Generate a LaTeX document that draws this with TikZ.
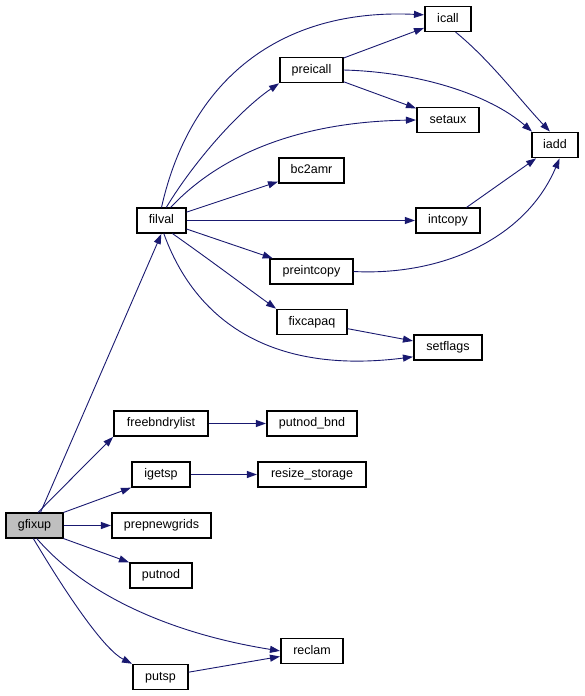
\documentclass[tikz,border=0pt]{standalone}
\usepackage{fontspec}
\setmainfont{Liberation Sans}
\usetikzlibrary{arrows.meta}
\definecolor{edgecol}{HTML}{191970}
\definecolor{rootfill}{HTML}{BFBFBF}
\tikzset{
  fn/.style={draw=black, line width=1.1pt, fill=white, inner sep=0pt, minimum height=25pt, font=\fontsize{12.5}{14}\selectfont, text height=9pt, text depth=2.5pt},
  root/.style={fn, fill=rootfill},
  call/.style={draw=edgecol, line width=0.9pt, -{Triangle[length=10pt,width=7pt]}, shorten >=0.5pt}
}
\begin{document}
\begin{tikzpicture}[x=1pt,y=-1pt]
\useasboundingbox (0,0) rectangle (584,696);
% nodes
\node[root, minimum width=57pt] (gfixup) at (34.5,525.5) {gfixup};
\node[fn, minimum width=49pt] (filval) at (161.5,220.5) {filval};
\node[fn, minimum width=46pt] (icall) at (448,19) {icall};
\node[fn, minimum width=63pt] (preicall) at (311.5,70) {preicall};
\node[fn, minimum width=62pt] (setaux) at (448,120) {setaux};
\node[fn, minimum width=46pt] (iadd) at (555,145) {iadd};
\node[fn, minimum width=65pt] (bc2amr) at (311.5,170.5) {bc2amr};
\node[fn, minimum width=64pt] (intcopy) at (448,220.5) {intcopy};
\node[fn, minimum width=83pt] (preintcopy) at (311.5,271.5) {preintcopy};
\node[fn, minimum width=70pt] (fixcapaq) at (312,322) {fixcapaq};
\node[fn, minimum width=68pt] (setflags) at (448,347.5) {setflags};
\node[fn, minimum width=94pt] (freebndrylist) at (161,423.5) {freebndrylist};
\node[fn, minimum width=90pt] (putnodbnd) at (312,423.5) {putnod\_bnd};
\node[fn, minimum width=58pt] (igetsp) at (161,474.5) {igetsp};
\node[fn, minimum width=108pt] (resize) at (312,474.5) {resize\_storage};
\node[fn, minimum width=99pt] (prepnewgrids) at (161.5,525.5) {prepnewgrids};
\node[fn, minimum width=62pt] (putnod) at (161,575.5) {putnod};
\node[fn, minimum width=62pt] (reclam) at (312,651) {reclam};
\node[fn, minimum width=55pt] (putsp) at (160.5,677) {putsp};
% edges from gfixup
\draw[call] (gfixup.north) ++(6,0) -- (filval.south);
\draw[call] (gfixup.75) .. controls (70,480) and (100,450) .. (freebndrylist.south west);
\draw[call] (gfixup.north east) -- (igetsp.south west);
\draw[call] (gfixup) -- (prepnewgrids);
\draw[call] (gfixup.south east) -- (putnod.north west);
\draw[call] (gfixup.-80) .. controls (90,600) and (180,635) .. (reclam.west);
\draw[call] (gfixup.-95) .. controls (70,600) and (105,650) .. (putsp.north west);
\draw[call] (putsp) -- (reclam);
\draw[call] (freebndrylist) -- (putnodbnd);
\draw[call] (igetsp) -- (resize);
% edges from filval
\draw[call] (filval.north) .. controls (190,80) and (280,8) .. (icall.170);
\draw[call] (filval.70) .. controls (195,160) and (240,110) .. (preicall.south west);
\draw[call] (filval.55) .. controls (215,160) and (290,122) .. (setaux.west);
\draw[call] (filval) -- (bc2amr);
\draw[call] (filval) -- (intcopy);
\draw[call] (filval) -- (preintcopy);
\draw[call] (filval.-50) .. controls (210,260) and (250,290) .. (fixcapaq.north west);
\draw[call] (filval.-80) .. controls (195,320) and (270,375) .. (setflags.195);
% others
\draw[call] (preicall) -- (icall);
\draw[call] (preicall) -- (setaux);
\draw[call] (preicall.east) .. controls (420,72) and (490,95) .. (iadd.150);
\draw[call] (icall.-60) .. controls (490,60) and (520,100) .. (iadd.110);
\draw[call] (intcopy) -- (iadd);
\draw[call] (preintcopy.east) .. controls (440,276) and (525,240) .. (iadd.-70);
\draw[call] (fixcapaq) -- (setflags);
\end{tikzpicture}
\end{document}
